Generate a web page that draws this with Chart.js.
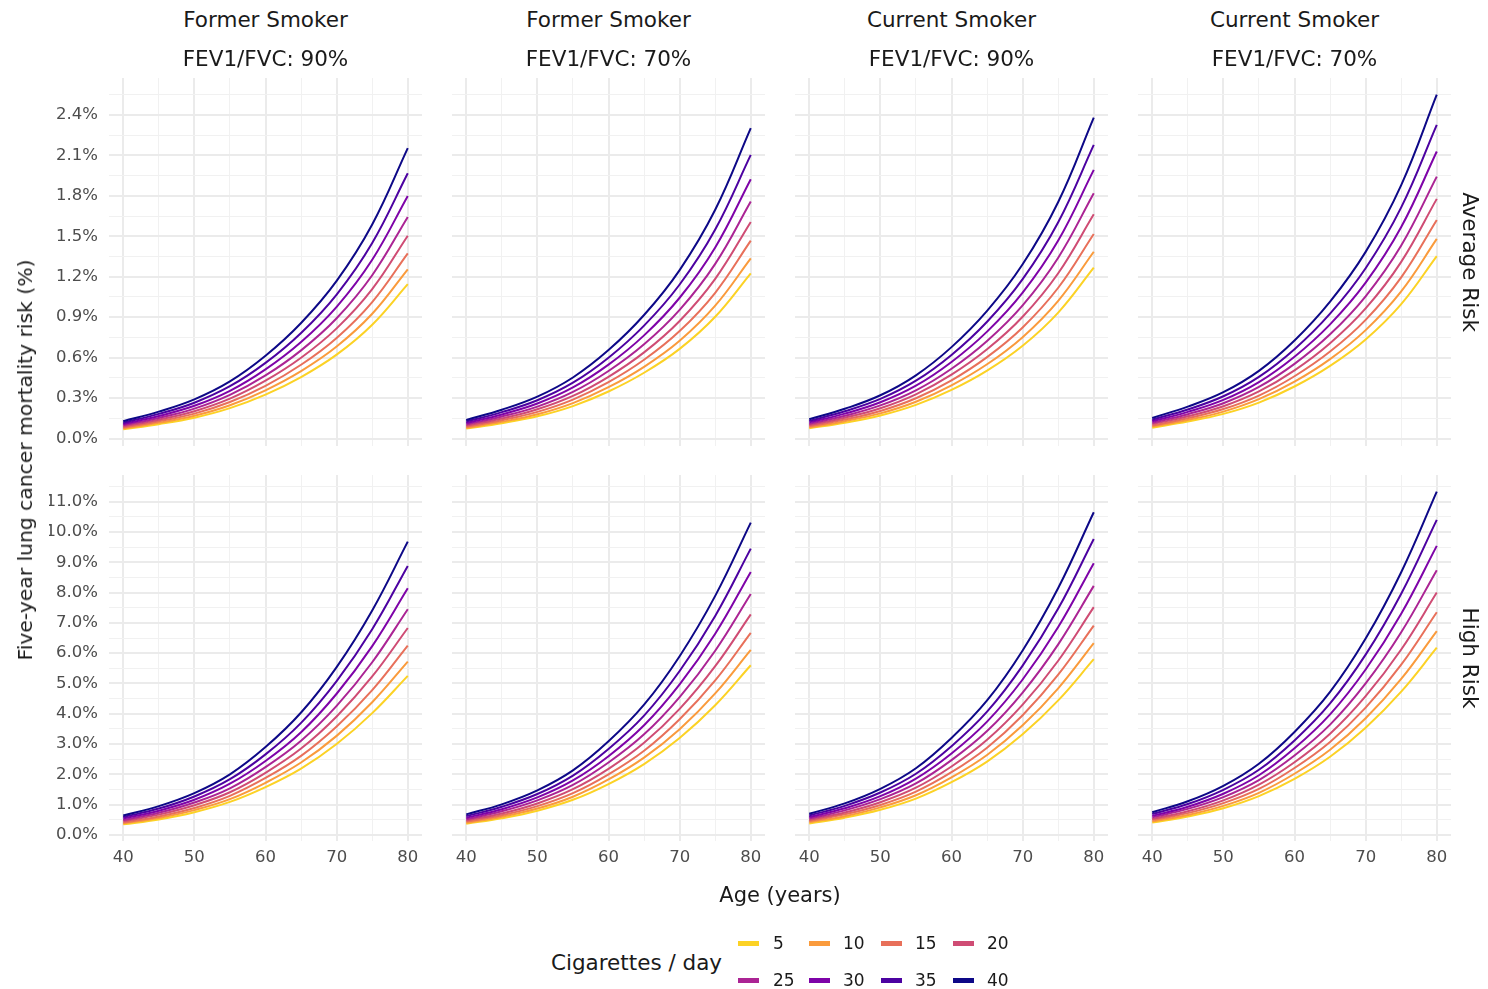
<!DOCTYPE html>
<html>
<head>
<meta charset="utf-8">
<script src="https://cdn.jsdelivr.net/npm/chart.js@4/dist/chart.umd.min.js"></script>
<style>
body { margin: 0; background: #fff; width: 1488px; height: 989px; position: relative; overflow: hidden; font-family: "DejaVu Sans", sans-serif; }
canvas { position: absolute; }
.lbl { position: absolute; white-space: nowrap; color: #1a1a1a; }
.key { position: absolute; width: 21px; height: 5px; }
.keytxt { position: absolute; font-size: 17px; color: #1a1a1a; transform: translateY(-50%); }
</style>
</head>
<body>
<div id="page"></div>
<script>
const ages = [40, 45, 50, 55, 60, 65, 70, 75, 80];
const cigarettes = [5, 10, 15, 20, 25, 30, 35, 40];
const lineColors = ['#FCD225', '#FA9B3C', '#E8705A', '#CF4C74', '#AB2494', '#7E03A8', '#4C02A1', '#0D0887'];

const colTitles = ['Former Smoker', 'Former Smoker', 'Current Smoker', 'Current Smoker'];
const fevTitles = ['FEV1/FVC: 90%', 'FEV1/FVC: 70%', 'FEV1/FVC: 90%', 'FEV1/FVC: 70%'];
const rowTitles = ['Average Risk', 'High Risk'];

const xMajorTicks = [40, 50, 60, 70, 80];
const xGridTicks = [40, 45, 50, 55, 60, 65, 70, 75, 80];
const topMajorTicks = [0, 0.3, 0.6, 0.9, 1.2, 1.5, 1.8, 2.1, 2.4];
const topGridTicks = [0, 0.15, 0.3, 0.45, 0.6, 0.75, 0.9, 1.05, 1.2, 1.35, 1.5, 1.65, 1.8, 1.95, 2.1, 2.25, 2.4, 2.55];
const bottomMajorTicks = [0, 1, 2, 3, 4, 5, 6, 7, 8, 9, 10, 11];
const bottomGridTicks = [0, 0.5, 1, 1.5, 2, 2.5, 3, 3.5, 4, 4.5, 5, 5.5, 6, 6.5, 7, 7.5, 8, 8.5, 9, 9.5, 10, 10.5, 11, 11.5];

// risk (%) by age, one row per cigarettes/day level (5 ... 40)
const formerFev90Average = [
  [0.069, 0.107, 0.155, 0.226, 0.326, 0.456, 0.622, 0.844, 1.145],
  [0.075, 0.117, 0.169, 0.247, 0.358, 0.500, 0.682, 0.925, 1.255],
  [0.082, 0.128, 0.185, 0.271, 0.391, 0.547, 0.746, 1.012, 1.373],
  [0.090, 0.140, 0.203, 0.296, 0.429, 0.599, 0.817, 1.108, 1.504],
  [0.099, 0.153, 0.222, 0.324, 0.468, 0.654, 0.892, 1.211, 1.643],
  [0.108, 0.167, 0.243, 0.354, 0.513, 0.716, 0.977, 1.326, 1.799],
  [0.118, 0.183, 0.266, 0.388, 0.561, 0.783, 1.068, 1.450, 1.967],
  [0.129, 0.200, 0.291, 0.424, 0.614, 0.857, 1.169, 1.587, 2.153]
];
const formerFev70Average = [
  [0.074, 0.114, 0.165, 0.241, 0.349, 0.488, 0.665, 0.903, 1.225],
  [0.080, 0.124, 0.180, 0.263, 0.381, 0.532, 0.725, 0.985, 1.336],
  [0.088, 0.136, 0.198, 0.289, 0.418, 0.584, 0.797, 1.081, 1.467],
  [0.096, 0.149, 0.217, 0.316, 0.458, 0.639, 0.872, 1.184, 1.606],
  [0.105, 0.163, 0.237, 0.346, 0.501, 0.699, 0.954, 1.295, 1.757],
  [0.115, 0.179, 0.260, 0.379, 0.548, 0.765, 1.044, 1.417, 1.923],
  [0.126, 0.196, 0.284, 0.414, 0.599, 0.837, 1.142, 1.550, 2.103],
  [0.138, 0.214, 0.311, 0.453, 0.656, 0.916, 1.249, 1.696, 2.301]
];
const currentFev90Average = [
  [0.076, 0.118, 0.171, 0.250, 0.361, 0.504, 0.688, 0.934, 1.267],
  [0.083, 0.129, 0.187, 0.273, 0.395, 0.551, 0.752, 1.021, 1.385],
  [0.091, 0.141, 0.205, 0.299, 0.432, 0.604, 0.824, 1.118, 1.517],
  [0.100, 0.155, 0.225, 0.328, 0.474, 0.662, 0.903, 1.226, 1.663],
  [0.109, 0.169, 0.246, 0.358, 0.518, 0.724, 0.988, 1.341, 1.819],
  [0.120, 0.185, 0.269, 0.392, 0.568, 0.793, 1.082, 1.468, 1.992],
  [0.131, 0.203, 0.294, 0.429, 0.620, 0.866, 1.182, 1.604, 2.177],
  [0.143, 0.221, 0.321, 0.469, 0.678, 0.947, 1.292, 1.754, 2.380]
];
const currentFev70Average = [
  [0.081, 0.126, 0.183, 0.267, 0.386, 0.539, 0.735, 0.997, 1.353],
  [0.089, 0.138, 0.200, 0.292, 0.422, 0.589, 0.804, 1.091, 1.480],
  [0.097, 0.151, 0.219, 0.319, 0.462, 0.645, 0.880, 1.195, 1.621],
  [0.107, 0.165, 0.240, 0.350, 0.506, 0.707, 0.965, 1.310, 1.777],
  [0.117, 0.181, 0.262, 0.383, 0.554, 0.773, 1.055, 1.431, 1.942],
  [0.128, 0.198, 0.287, 0.419, 0.607, 0.847, 1.156, 1.568, 2.128],
  [0.140, 0.216, 0.314, 0.458, 0.663, 0.926, 1.263, 1.714, 2.326],
  [0.153, 0.237, 0.344, 0.502, 0.727, 1.015, 1.384, 1.879, 2.549]
];
const formerFev90High = [
  [0.35, 0.51, 0.75, 1.09, 1.58, 2.19, 3.00, 4.02, 5.25],
  [0.38, 0.56, 0.82, 1.18, 1.72, 2.39, 3.27, 4.38, 5.72],
  [0.41, 0.61, 0.89, 1.29, 1.88, 2.61, 3.58, 4.78, 6.25],
  [0.45, 0.67, 0.98, 1.41, 2.05, 2.85, 3.91, 5.23, 6.83],
  [0.49, 0.73, 1.07, 1.54, 2.24, 3.11, 4.26, 5.70, 7.45],
  [0.54, 0.80, 1.16, 1.69, 2.44, 3.39, 4.66, 6.23, 8.14],
  [0.59, 0.87, 1.27, 1.84, 2.66, 3.70, 5.08, 6.79, 8.88],
  [0.64, 0.95, 1.38, 2.00, 2.90, 4.04, 5.54, 7.41, 9.68]
];
const formerFev70High = [
  [0.37, 0.55, 0.80, 1.16, 1.68, 2.34, 3.20, 4.28, 5.60],
  [0.40, 0.60, 0.87, 1.26, 1.83, 2.55, 3.49, 4.67, 6.11],
  [0.44, 0.65, 0.95, 1.38, 2.00, 2.78, 3.82, 5.10, 6.67],
  [0.48, 0.71, 1.04, 1.51, 2.18, 3.04, 4.16, 5.57, 7.28],
  [0.52, 0.78, 1.14, 1.65, 2.39, 3.32, 4.55, 6.08, 7.95],
  [0.57, 0.85, 1.24, 1.80, 2.60, 3.62, 4.97, 6.64, 8.68],
  [0.62, 0.93, 1.35, 1.96, 2.84, 3.94, 5.41, 7.23, 9.45],
  [0.68, 1.01, 1.47, 2.13, 3.09, 4.30, 5.90, 7.89, 10.31]
];
const currentFev90High = [
  [0.38, 0.57, 0.83, 1.20, 1.74, 2.42, 3.32, 4.44, 5.80],
  [0.42, 0.62, 0.91, 1.31, 1.90, 2.64, 3.62, 4.84, 6.33],
  [0.46, 0.68, 0.99, 1.43, 2.07, 2.88, 3.95, 5.29, 6.91],
  [0.50, 0.74, 1.08, 1.56, 2.26, 3.14, 4.30, 5.75, 7.52],
  [0.54, 0.81, 1.18, 1.70, 2.47, 3.43, 4.70, 6.29, 8.22],
  [0.59, 0.88, 1.28, 1.86, 2.69, 3.74, 5.13, 6.86, 8.97],
  [0.64, 0.96, 1.40, 2.02, 2.93, 4.07, 5.59, 7.47, 9.77],
  [0.70, 1.04, 1.52, 2.20, 3.20, 4.44, 6.09, 8.15, 10.65]
];
const currentFev70High = [
  [0.41, 0.61, 0.88, 1.28, 1.85, 2.58, 3.54, 4.73, 6.18],
  [0.44, 0.66, 0.96, 1.39, 2.02, 2.81, 3.85, 5.15, 6.73],
  [0.49, 0.72, 1.05, 1.52, 2.21, 3.07, 4.20, 5.62, 7.35],
  [0.53, 0.78, 1.14, 1.66, 2.40, 3.34, 4.58, 6.12, 8.00],
  [0.58, 0.86, 1.25, 1.81, 2.62, 3.64, 5.00, 6.69, 8.74],
  [0.63, 0.93, 1.36, 1.97, 2.86, 3.98, 5.46, 7.30, 9.54],
  [0.69, 1.02, 1.49, 2.15, 3.12, 4.34, 5.95, 7.96, 10.40],
  [0.75, 1.11, 1.62, 2.35, 3.40, 4.72, 6.48, 8.67, 11.33]
];

const panelData = [
  [formerFev90Average, formerFev70Average, currentFev90Average, currentFev70Average],
  [formerFev90High, formerFev70High, currentFev90High, currentFev70High]
];

// panel placement on the page
const colLeft = [109, 452, 795, 1138];
const panelWidth = 313;
const rowTop = [78, 475];
const rowHeight = [368, 366];
const rowYMin = [-0.055, -0.2];
const rowYMax = [2.673, 11.88];
const PAD = 30;
const Y_AXIS_W = 60;
const X_AXIS_H = 30;

const page = document.getElementById('page');

function addLabel(text, x, y, size, rotate) {
    const d = document.createElement('div');
    d.className = 'lbl';
    d.textContent = text;
    d.style.left = x + 'px';
    d.style.top = y + 'px';
    d.style.fontSize = size + 'px';
    d.style.transform = 'translate(-50%, -50%)' + (rotate ? ' rotate(' + rotate + 'deg)' : '');
    page.appendChild(d);
}

function isIn(list, v) {
    return list.some(t => Math.abs(t - v) < 1e-6);
}

function makePanel(row, col) {
    const hasY = col === 0;
    const hasX = row === 1;
    const w = panelWidth + 2 * PAD + (hasY ? Y_AXIS_W : 0);
    const h = rowHeight[row] + 2 * PAD + (hasX ? X_AXIS_H : 0);

    const canvas = document.createElement('canvas');
    canvas.width = w;
    canvas.height = h;
    canvas.style.left = (colLeft[col] - PAD - (hasY ? Y_AXIS_W : 0)) + 'px';
    canvas.style.top = (rowTop[row] - PAD) + 'px';
    page.appendChild(canvas);

    const yMajor = row === 0 ? topMajorTicks : bottomMajorTicks;
    const yGrid = row === 0 ? topGridTicks : bottomGridTicks;
    const series = panelData[row][col];

    const datasets = cigarettes.map((c, i) => ({
        label: String(c),
        data: ages.map((a, j) => ({ x: a, y: series[i][j] })),
        borderColor: lineColors[i],
        borderWidth: 2,
        pointRadius: 0,
        fill: false,
        tension: 0.4,
        order: cigarettes.length - 1 - i
    }));

    new Chart(canvas, {
        type: 'line',
        data: { datasets: datasets },
        options: {
            responsive: false,
            animation: false,
            devicePixelRatio: 1,
            layout: { padding: PAD },
            plugins: { legend: { display: false }, tooltip: { enabled: false } },
            scales: {
                x: {
                    type: 'linear',
                    min: 38,
                    max: 82,
                    afterBuildTicks: s => { s.ticks = xGridTicks.map(v => ({ value: v })); },
                    afterFit: s => { s.height = hasX ? X_AXIS_H : 0; },
                    border: { display: false },
                    grid: {
                        drawTicks: false,
                        color: ctx => isIn(xMajorTicks, ctx.tick.value) ? '#EBEBEB' : '#F1F1F1',
                        lineWidth: ctx => isIn(xMajorTicks, ctx.tick.value) ? 2 : 1
                    },
                    ticks: {
                        display: hasX,
                        autoSkip: false,
                        maxRotation: 0,
                        padding: 7,
                        color: '#4D4D4D',
                        font: { family: 'DejaVu Sans', size: 16.5 },
                        callback: v => isIn(xMajorTicks, v) ? String(v) : ''
                    }
                },
                y: {
                    type: 'linear',
                    min: rowYMin[row],
                    max: rowYMax[row],
                    afterBuildTicks: s => { s.ticks = yGrid.map(v => ({ value: v })); },
                    afterFit: s => { s.width = hasY ? Y_AXIS_W : 0; },
                    border: { display: false },
                    grid: {
                        drawTicks: false,
                        color: ctx => isIn(yMajor, ctx.tick.value) ? '#EBEBEB' : '#F1F1F1',
                        lineWidth: ctx => isIn(yMajor, ctx.tick.value) ? 2 : 1
                    },
                    ticks: {
                        display: hasY,
                        autoSkip: false,
                        padding: 11,
                        color: '#4D4D4D',
                        font: { family: 'DejaVu Sans', size: 16.5 },
                        callback: v => isIn(yMajor, v) ? v.toFixed(1) + '%' : ''
                    }
                }
            }
        }
    });
}

for (let r = 0; r < 2; r++) {
    for (let c = 0; c < 4; c++) {
        makePanel(r, c);
    }
}

// strip labels
colTitles.forEach((t, c) => addLabel(t, colLeft[c] + panelWidth / 2, 19, 21.5));
fevTitles.forEach((t, c) => addLabel(t, colLeft[c] + panelWidth / 2, 58, 21.5));
rowTitles.forEach((t, r) => addLabel(t, 1470, rowTop[r] + rowHeight[r] / 2, 21.5, 90));

// axis titles
addLabel('Age (years)', 780, 895, 21);
addLabel('Five-year lung cancer mortality risk (%)', 25, 460, 20.3, -90);

// legend
addLabel('Cigarettes / day', 636.5, 962, 21.5);
const keyX = [738, 809, 881, 953];
const keyTextX = [773, 843, 915, 987];
const keyY = [943, 980];
cigarettes.forEach((c, i) => {
    const r = Math.floor(i / 4);
    const k = i % 4;
    const key = document.createElement('div');
    key.className = 'key';
    key.style.background = lineColors[i];
    key.style.left = keyX[k] + 'px';
    key.style.top = (keyY[r] - 2.5) + 'px';
    page.appendChild(key);
    const t = document.createElement('div');
    t.className = 'keytxt';
    t.textContent = String(c);
    t.style.left = keyTextX[k] + 'px';
    t.style.top = keyY[r] + 'px';
    page.appendChild(t);
});
</script>
</body>
</html>
